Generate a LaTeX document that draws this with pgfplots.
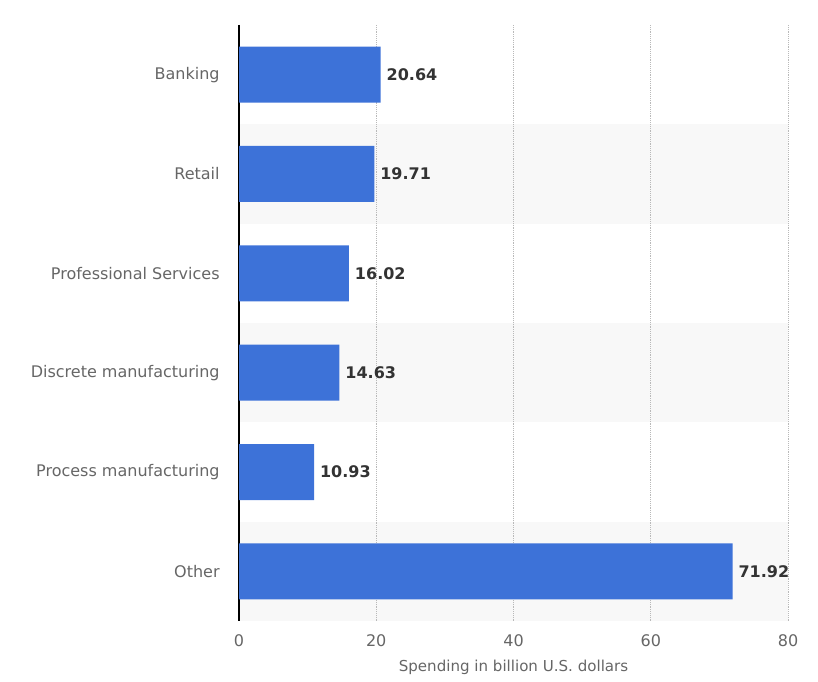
\documentclass[border=0pt]{standalone}
\usepackage{pgfplots}
\pgfplotsset{compat=1.18}
\usepackage{fontspec}
\setmainfont{DejaVu Sans}
\definecolor{barblue}{RGB}{61,114,216}
\definecolor{bandgray}{RGB}{248,248,248}
\definecolor{labgray}{RGB}{102,102,102}
\definecolor{valgray}{RGB}{51,51,51}
\begin{document}
\begin{tikzpicture}
\begin{axis}[
  name=ax,
  set layers=standard,
  scale only axis,
  width=411.75pt, height=447pt,
  xbar, bar width=42pt,
  xmin=0, xmax=80,
  ymin=-0.5, ymax=5.5, y dir=reverse,
  ytick={0,1,2,3,4,5},
  yticklabels={Banking,Retail,Professional Services,Discrete manufacturing,Process manufacturing,Other},
  xtick={0,20,40,60,80},
  major tick length=0pt,
  axis lines*=left,
  x axis line style={draw=none},
  y axis line style={black, line width=1pt},
  xmajorgrids, grid style={densely dotted, gray!55, line width=0.6pt},
  /pgf/number format/assume math mode=true,
  tick label style={font=\fontsize{12pt}{14pt}\selectfont, text=labgray},
  yticklabel style={xshift=-11pt},
  xticklabel style={yshift=-7pt},
  xlabel={Spending in billion U.S. dollars},
  xlabel style={font=\fontsize{11.3pt}{13pt}\selectfont, text=labgray, yshift=-3pt},
  nodes near coords,
  point meta=explicit symbolic,
  nodes near coords style={font=\bfseries\fontsize{12pt}{14pt}\selectfont, text=valgray, anchor=west, xshift=1pt},
]
\begin{pgfonlayer}{axis background}
\fill[bandgray] (axis cs:0,0.5) rectangle (axis cs:80,1.5);
\fill[bandgray] (axis cs:0,2.5) rectangle (axis cs:80,3.5);
\fill[bandgray] (axis cs:0,4.5) rectangle (axis cs:80,5.5);
\end{pgfonlayer}
\addplot[fill=barblue, draw=none] coordinates {
(20.64,0) [20.64]
(19.71,1) [19.71]
(16.02,2) [16.02]
(14.63,3) [14.63]
(10.93,4) [10.93]
(71.92,5) [71.92]
};
\end{axis}
\pgfresetboundingbox
\path ([xshift=-179.25pt,yshift=-45pt]ax.south west) rectangle ([xshift=22.5pt,yshift=18.75pt]ax.north east);
\end{tikzpicture}
\end{document}
